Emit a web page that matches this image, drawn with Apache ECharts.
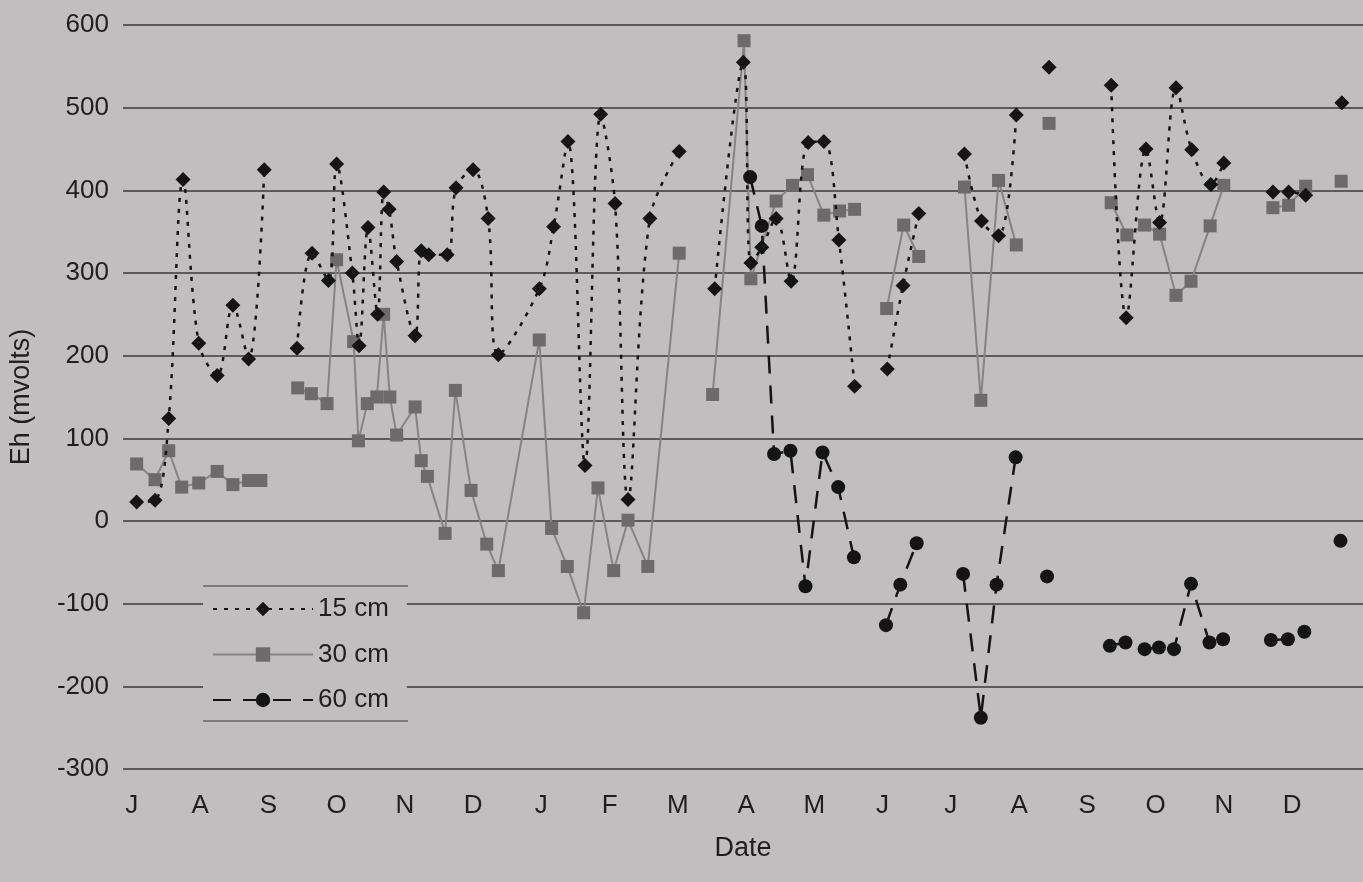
<!DOCTYPE html>
<html>
<head>
<meta charset="utf-8">
<script src="https://cdn.jsdelivr.net/npm/echarts@6/dist/echarts.min.js"></script>
<style>
html,body{margin:0;padding:0;background:#c1bec0;}
#chart{width:1363px;height:882px;}
</style>
</head>
<body>
<div id="chart"></div>
<script>
// Month tick labels (Jul of year 1 through Dec of year 2)
const monthLabels = ['J','A','S','O','N','D','J','F','M','A','M','J','J','A','S','O','N','D'];
const yTicks = [-300,-200,-100,0,100,200,300,400,500,600];

// x = months since first July label; null = gap in the record
const depth15X = [0.07,0.34,0.54,0.75,0.98,1.25,1.48,1.71,1.94,null,
  2.42,2.64,2.88,3.00,3.23,3.33,3.46,3.60,3.69,3.77,3.88,4.15,4.24,4.35,4.62,4.75,5.00,5.22,5.37,5.97,6.18,6.39,6.64,6.87,7.08,7.27,7.59,8.02,null,
  8.54,8.96,9.07,9.23,9.44,9.66,9.91,10.14,10.36,10.59,null,
  11.07,11.30,11.53,null,
  12.20,12.45,12.70,12.96,null,
  13.44,null,
  14.35,14.57,14.86,15.06,15.30,15.53,15.81,16.00,null,
  16.72,16.95,17.20,null,
  17.73];
const depth15Y = [23,25,124,413,215,176,261,196,425,null,
  209,324,291,432,300,212,355,250,398,377,314,224,327,322,322,403,425,366,201,281,356,459,67,492,384,26,366,447,null,
  281,555,312,331,366,290,458,459,340,163,null,
  184,285,372,null,
  444,363,345,491,null,
  549,null,
  527,246,450,361,524,449,407,433,null,
  398,398,394,null,
  506];

const depth30X = [0.07,0.34,0.54,0.73,0.98,1.25,1.48,1.71,1.89,null,
  2.43,2.63,2.86,3.00,3.25,3.32,3.45,3.59,3.69,3.78,3.88,4.15,4.24,4.33,4.59,4.74,4.97,5.20,5.37,5.97,6.15,6.38,6.62,6.83,7.06,7.27,7.56,8.02,null,
  8.51,8.97,9.07,9.44,9.68,9.90,10.14,10.37,10.59,null,
  11.06,11.31,11.53,null,
  12.20,12.44,12.70,12.96,null,
  13.44,null,
  14.35,14.58,14.84,15.06,15.30,15.52,15.80,16.00,null,
  16.72,16.95,17.20,null,
  17.72];
const depth30Y = [69,50,85,41,46,60,44,49,49,null,
  161,154,142,316,217,97,142,150,250,150,104,138,73,54,-15,158,37,-28,-60,219,-9,-55,-111,40,-60,1,-55,324,null,
  153,581,293,387,406,419,370,375,377,null,
  257,358,320,null,
  404,146,412,334,null,
  481,null,
  385,346,358,347,273,290,357,406,null,
  379,382,405,null,
  411];

const depth60X = [9.06,9.23,9.41,9.65,9.87,10.12,10.35,10.58,null,
  11.05,11.26,11.50,null,
  12.18,12.44,12.67,12.95,null,
  13.41,null,
  14.33,14.56,14.84,15.05,15.27,15.52,15.79,15.99,null,
  16.69,16.94,17.18,null,
  17.71];
const depth60Y = [416,357,81,85,-79,83,41,-44,null,
  -126,-77,-27,null,
  -64,-238,-77,77,null,
  -67,null,
  -151,-147,-155,-153,-155,-76,-147,-143,null,
  -144,-143,-134,null,
  -24];

const seriesNames = ['15 cm','30 cm','60 cm'];

function pairs(xs, ys){
  return xs.map((x,i)=> (x===null || ys[i]===null) ? ['-','-'] : [x, ys[i]]);
}

const BG = '#c1bec0';
const TXT = '#1e1e1e';
const FONT = '"Liberation Sans", Arial, sans-serif';

const chart = echarts.init(document.getElementById('chart'));
chart.setOption({
  animation: false,
  backgroundColor: BG,
  textStyle: {fontFamily: FONT, color: TXT},
  grid: {left: 118, right: 0, top: 25, bottom: 113, containLabel: false},
  xAxis: {
    type: 'value',
    min: -0.13, max: 18.04,
    name: 'Date', nameLocation: 'middle', nameGap: 66,
    nameTextStyle: {fontSize: 27, color: TXT, fontFamily: FONT},
    axisLine: {show: false}, axisTick: {show: false}, splitLine: {show: false},
    axisLabel: {
      customValues: monthLabels.map((_, i) => i),
      formatter: v => monthLabels[Math.round(v)],
      fontSize: 26, color: TXT, margin: 24, fontFamily: FONT
    }
  },
  yAxis: {
    type: 'value',
    min: yTicks[0], max: yTicks[yTicks.length-1], interval: 100,
    name: 'Eh (mvolts)', nameLocation: 'middle', nameGap: 88,
    nameTextStyle: {fontSize: 27, color: TXT, fontFamily: FONT},
    axisLine: {show: false}, axisTick: {show: false},
    axisLabel: {fontSize: 26, color: TXT, margin: 14, fontFamily: FONT},
    splitLine: {lineStyle: {color: '#3a3a3a', width: 1.5}}
  },
  legend: {
    orient: 'vertical', left: 203, top: 586,
    padding: [10, 18, 8, 9],
    backgroundColor: BG,
    itemWidth: 100, itemHeight: 18, itemGap: 19.5,
    textStyle: {fontSize: 26, color: TXT, lineHeight: 26, fontFamily: FONT},
    data: seriesNames
  },
  graphic: [
    {type: 'line', z: 100, shape: {x1: 203, y1: 586, x2: 408, y2: 586}, style: {stroke: '#3a3a3a', lineWidth: 1.2}},
    {type: 'line', z: 100, shape: {x1: 203, y1: 721, x2: 408, y2: 721}, style: {stroke: '#3a3a3a', lineWidth: 1.2}}
  ],
  series: [
    {
      name: seriesNames[0], type: 'line', data: pairs(depth15X, depth15Y),
      smooth: 0.35, connectNulls: false,
      symbol: 'diamond', symbolSize: 15,
      itemStyle: {color: '#141414'},
      lineStyle: {color: '#141414', width: 2.5, type: [4, 7]},
      z: 3
    },
    {
      name: seriesNames[1], type: 'line', data: pairs(depth30X, depth30Y),
      connectNulls: false,
      symbol: 'rect', symbolSize: 13,
      itemStyle: {color: '#6c6a6b'},
      lineStyle: {color: '#858385', width: 2, type: 'solid'},
      z: 2
    },
    {
      name: seriesNames[2], type: 'line', data: pairs(depth60X, depth60Y),
      connectNulls: false,
      symbol: 'circle', symbolSize: 14,
      itemStyle: {color: '#141414'},
      lineStyle: {color: '#141414', width: 2.5, type: [18, 12]},
      z: 4
    }
  ]
});
</script>
</body>
</html>
